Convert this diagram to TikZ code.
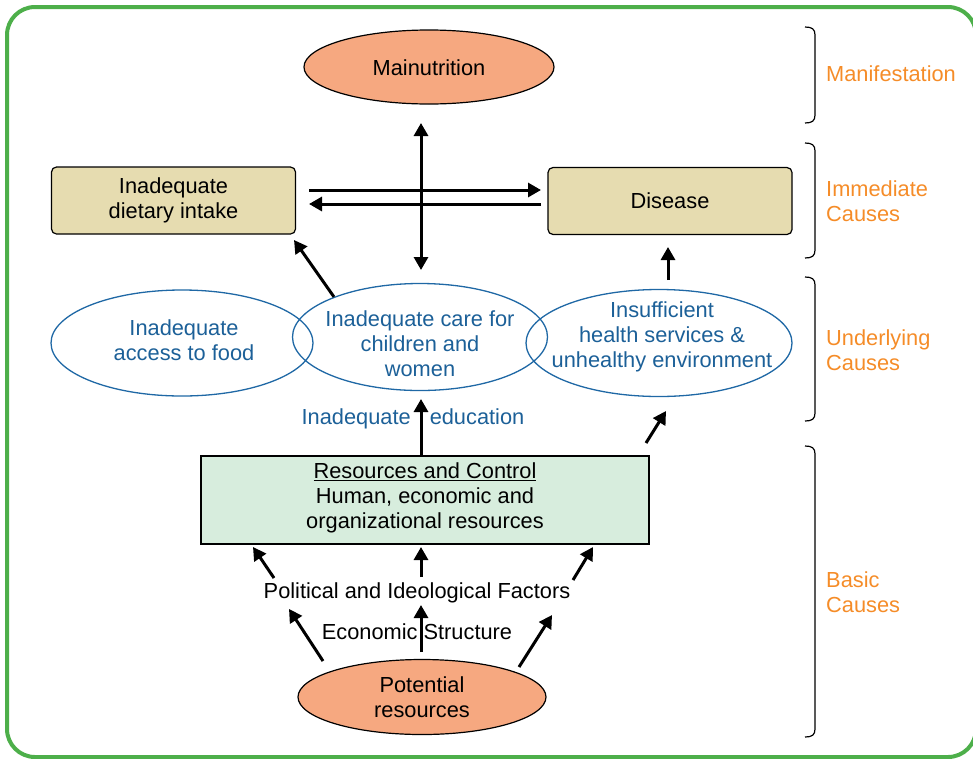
\documentclass[tikz,border=0pt]{standalone}
\usepackage{fontspec}
\setmainfont{Liberation Sans}
\usetikzlibrary{arrows.meta,shapes.geometric}
\definecolor{frameg}{RGB}{77,175,74}
\definecolor{salmon}{RGB}{246,168,128}
\definecolor{beige}{RGB}{230,220,176}
\definecolor{mint}{RGB}{215,237,221}
\definecolor{bline}{RGB}{31,104,165}
\definecolor{btext}{RGB}{28,96,152}
\definecolor{orng}{RGB}{245,140,40}
\tikzset{
  txt/.style={font=\fontsize{21.8}{25}\selectfont, align=center, inner sep=0pt},
  salm/.style={ellipse, draw=black, line width=1.2pt, fill=salmon, inner sep=0pt},
  ibox/.style={rectangle, rounded corners=5pt, draw=black, line width=1.2pt, fill=beige, inner sep=0pt},
  uell/.style={ellipse, draw=bline, line width=1.3pt, inner sep=0pt},
  blab/.style={txt, text=btext},
  olab/.style={font=\fontsize{21.8}{25}\selectfont, align=left, text=orng, anchor=west, inner sep=0pt},
  arr/.style={line width=3pt, -{Triangle[length=13pt,width=14pt]}},
  darr/.style={line width=3pt, {Triangle[length=13pt,width=14pt]}-{Triangle[length=13pt,width=14pt]}},
  brk/.style={line width=1.2pt, black}
}
\begin{document}
\begin{tikzpicture}[x=1pt,y=-1pt]
\useasboundingbox (0,0) rectangle (973,758);
% frame
\draw[frameg, line width=4pt, rounded corners=28pt] (7,7) rectangle (976,757);

% manifestation
\node[salm, minimum width=250pt, minimum height=74pt] (mal) at (429,67) {};
\node[txt] at (429,68) {Mainutrition};

% immediate
\node[ibox, minimum width=244pt, minimum height=67pt] (diet) at (173.5,200.5) {};
\node[txt] at (diet) {Inadequate\\dietary intake};
\node[ibox, minimum width=244pt, minimum height=67pt] (dis) at (670,201) {};
\node[txt] at (dis) {Disease};

% underlying
\node[uell, minimum width=262pt, minimum height=106pt] (acc) at (182,343) {};
\node[blab] at (184,340) {Inadequate\\access to food};
\node[uell, minimum width=255pt, minimum height=107pt] (care) at (420,337) {};
\node[blab] at (420,344) {Inadequate care for\\children and\\women};
\node[uell, minimum width=266pt, minimum height=107pt] (hlth) at (659,343) {};
\node[blab] at (662,337) {Insufficient\\health services \&\\unhealthy environment};

% basic
\node[rectangle, draw=black, line width=1.2pt, fill=mint, minimum width=448pt, minimum height=88pt, inner sep=0pt] (res) at (425,500) {};
\node[txt] at (425,498) {\underline{Resources and Control}\\Human, economic and\\organizational resources};
\node[salm, minimum width=248pt, minimum height=75pt] (pot) at (422,697) {};
\node[txt] at (pot) {Potential\\resources};

\node[blab] (edu) at (413,419) {Inadequate\hspace{19pt}education};
\node[txt] (pol) at (417,593) {Political and Ideological Factors};
\node[txt] (eco) at (417,632) {Economic\hspace{6pt}Structure};

% coordinates
\coordinate (v1) at (421,123);
\coordinate (v2) at (421,270);
\coordinate (h1) at (309,190);
\coordinate (h2) at (541,190);
\coordinate (h3) at (541,204);
\coordinate (h4) at (309,204);
\coordinate (cd) at (294,240);
\coordinate (hd1) at (668,280);
\coordinate (hd2) at (668,247);
\coordinate (rc1) at (421,455);
\coordinate (rc2) at (421,399);
\coordinate (rh1) at (646,443);
\coordinate (rh2) at (666,411);
\coordinate (pl1) at (274,578);
\coordinate (pl2) at (253,547);
\coordinate (pm1) at (421,577);
\coordinate (pm2) at (421,547);
\coordinate (pr1) at (573,580);
\coordinate (pr2) at (593,547);
\coordinate (ql1) at (323,661);
\coordinate (ql2) at (289,609);
\coordinate (qm1) at (421,652);
\coordinate (qm2) at (421,605);
\coordinate (qr1) at (519,667);
\coordinate (qr2) at (552,615);

% connectors
\draw[darr] (v1) -- (v2);
\draw[arr] (h1) -- (h2);
\draw[arr] (h3) -- (h4);
\draw[arr] (care.155) -- (cd);
\draw[arr] (hd1) -- (hd2);
\draw[arr] (rc1) -- (rc2);
\draw[arr] (rh1) -- (rh2);
\draw[arr] (pl1) -- (pl2);
\draw[arr] (pm1) -- (pm2);
\draw[arr] (pr1) -- (pr2);
\draw[arr] (ql1) -- (ql2);
\draw[arr] (qm1) -- (qm2);
\draw[arr] (qr1) -- (qr2);

% brackets
\draw[brk] (805,27) .. controls (812,27) and (815,29) .. (815,35) -- (815,115) .. controls (815,121) and (812,123) .. (805,123);
\draw[brk] (805,143) .. controls (812,143) and (815,145) .. (815,151) -- (815,250) .. controls (815,256) and (812,258) .. (805,258);
\draw[brk] (805,277) .. controls (812,277) and (815,279) .. (815,285) -- (815,413) .. controls (815,419) and (812,421) .. (805,421);
\draw[brk] (805,446) .. controls (812,446) and (815,448) .. (815,454) -- (815,729) .. controls (815,735) and (812,737) .. (805,737);

% labels
\node[olab] (lm) at (826,74) {Manifestation};
\node[olab] (li) at (826,201) {Immediate\\Causes};
\node[olab] (lu) at (826,350) {Underlying\\Causes};
\node[olab] (lb) at (826,592) {Basic\\Causes};
\end{tikzpicture}
\end{document}
